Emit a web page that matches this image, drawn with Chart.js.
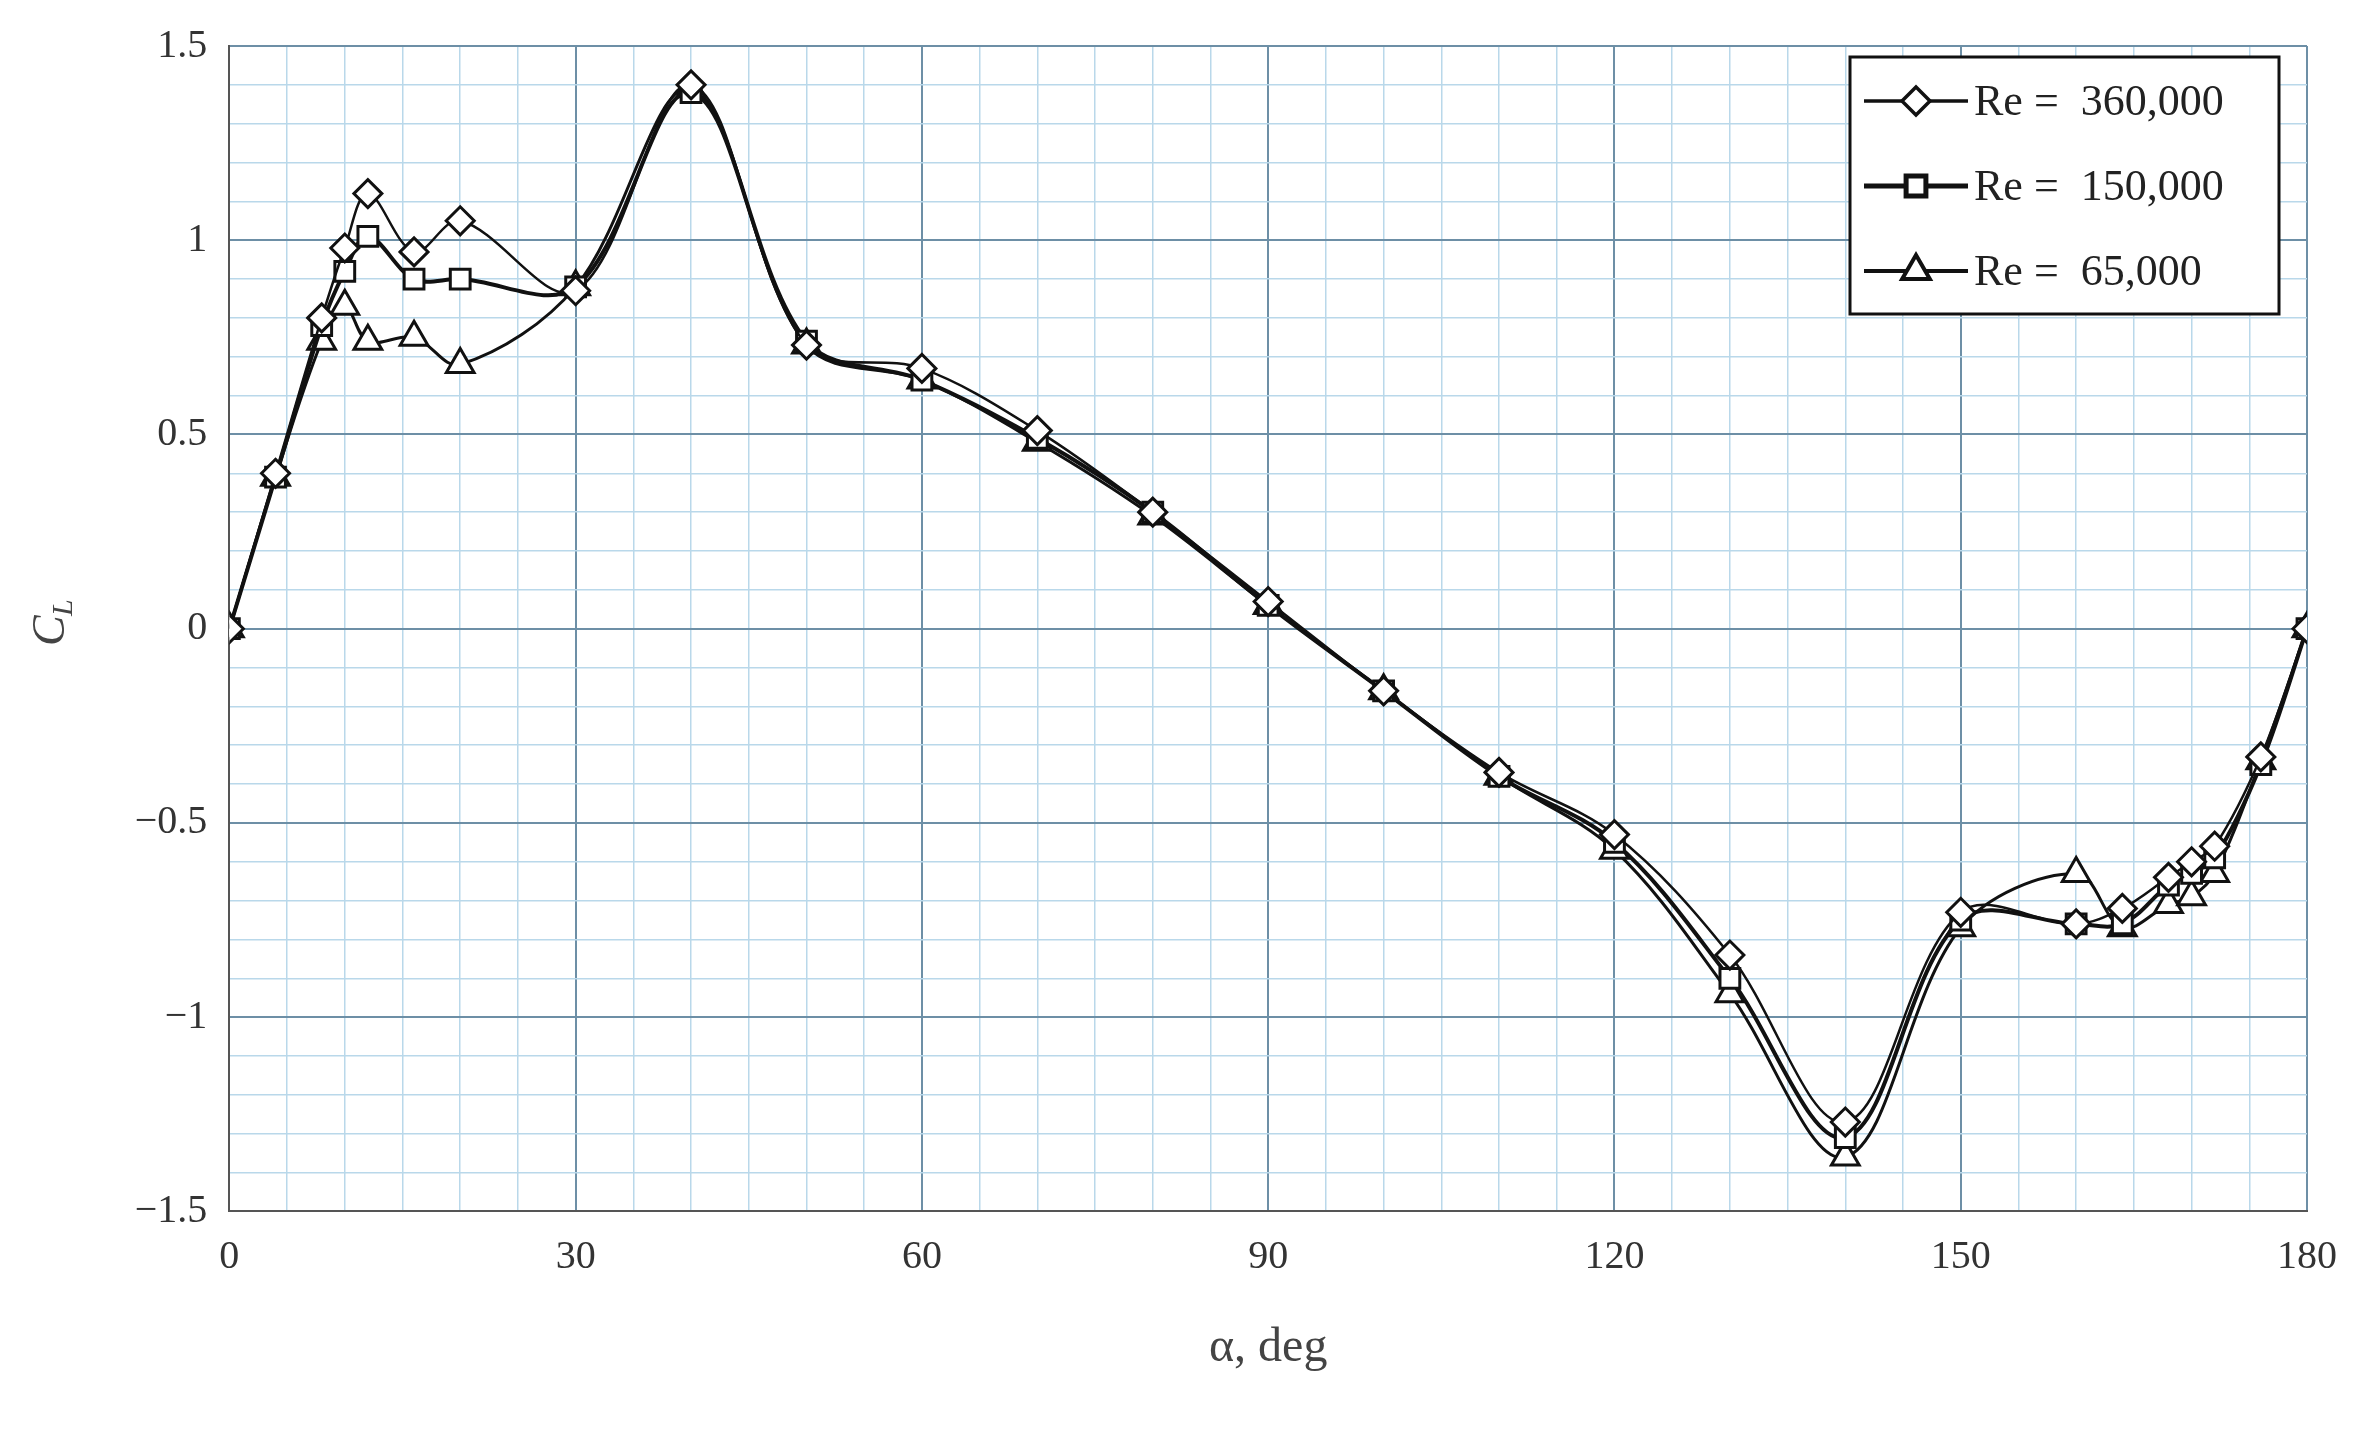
<!DOCTYPE html>
<html><head><meta charset="utf-8">
<script src="https://cdn.jsdelivr.net/npm/chart.js@4"></script>
<style>html,body{margin:0;padding:0;background:#fff}#wrap{width:2365px;height:1449px}</style>
</head><body><div id="wrap"><canvas id="c"></canvas></div>
<script>
const alpha = [0,4,8,10,12,16,20,30,40,50,60,70,80,90,100,110,120,130,140,150,160,164,168,170,172,176,180];
const re360 = [0,0.40,0.80,0.98,1.12,0.97,1.05,0.87,1.40,0.73,0.67,0.51,0.30,0.07,-0.16,-0.37,-0.53,-0.84,-1.27,-0.73,-0.76,-0.72,-0.64,-0.60,-0.56,-0.33,0];
const re150 = [0,0.39,0.78,0.92,1.01,0.90,0.90,0.88,1.38,0.74,0.64,0.49,0.30,0.06,-0.16,-0.38,-0.55,-0.90,-1.31,-0.75,-0.76,-0.76,-0.66,-0.63,-0.59,-0.35,0];
const re65 = [0,0.39,0.74,0.83,0.74,0.75,0.68,0.88,1.39,0.73,0.64,0.48,0.29,0.06,-0.16,-0.38,-0.57,-0.94,-1.36,-0.77,-0.63,-0.77,-0.71,-0.69,-0.63,-0.34,0];
const seriesNames = ['Re =  360,000','Re =  150,000','Re =  65,000'];
const xTickLabels = [0,30,60,90,120,150,180];
const yTickLabels = [1.5,1,0.5,0,-0.5,-1,-1.5];

const FONT = '"Liberation Serif", "DejaVu Serif", serif';
const pts = ys => alpha.map((x,i)=>({x, y: ys[i]}));
const mk = (label, ys, style, lw, r) => ({label, data: pts(ys), pointStyle: style, borderColor:'#111',
  backgroundColor:'#fff', pointBackgroundColor:'#fff', pointBorderColor:'#111', pointBorderWidth:3,
  pointRadius: r, borderWidth: lw, tension:0.35, fill:false});

const legendPlugin = {id:'lg', afterDraw(ch){
  const c = ch.ctx; const x0=1850,y0=57,w=429,h=257;
  c.save(); c.fillStyle='#fff'; c.fillRect(x0,y0,w,h); c.strokeStyle='#111'; c.lineWidth=3; c.strokeRect(x0,y0,w,h);
  ch.data.datasets.forEach((d,i)=>{
    const y=y0+44+i*85;
    c.strokeStyle='#111'; c.lineWidth=d.borderWidth+1; c.beginPath(); c.moveTo(x0+14,y); c.lineTo(x0+118,y); c.stroke();
    c.fillStyle='#fff'; c.strokeStyle='#111';
    Chart.helpers.drawPoint(c,{pointStyle:d.pointStyle,radius:d.pointRadius,borderWidth:3},x0+66,y);
    c.fillStyle='#222'; c.font='44px '+FONT; c.textBaseline='middle'; c.textAlign='left'; c.fillText(d.label,x0+124,y+2);
  });
  c.fillStyle='#444'; c.translate(52,630); c.rotate(-Math.PI/2);
  c.font='italic 46px '+FONT; c.textBaseline='middle'; c.fillText('C',-16,0);
  c.font='italic 30px '+FONT; c.fillText('L',14,12);
  c.restore();
}};

new Chart(document.getElementById('c'),{
  type:'line',
  data:{datasets:[mk(seriesNames[0],re360,'rectRot',2.5,14),mk(seriesNames[1],re150,'rect',4,14),mk(seriesNames[2],re65,'triangle',3,16)]},
  options:{responsive:true,maintainAspectRatio:false,animation:false,
    layout:{padding:{left:20,right:58,top:40,bottom:68}},
    plugins:{legend:{display:false},tooltip:{enabled:false}},
    scales:{
      x:{type:'linear',min:0,max:180,border:{color:'#555',width:2},
        ticks:{stepSize:5,autoSkip:false,maxRotation:0,color:'#333',font:{family:FONT,size:40},padding:22,
          callback:v=>xTickLabels.includes(v)?String(v):''},
        grid:{drawTicks:false,color:c=>c.tick.value%30===0?'#6d8fa6':'#b9d8ea',lineWidth:c=>c.tick.value%30===0?2:1.5},
        title:{display:true,text:'α, deg',color:'#444',font:{family:FONT,size:48},padding:{top:16}}},
      y:{min:-1.5,max:1.5,border:{color:'#555',width:2},
        ticks:{stepSize:0.1,autoSkip:false,color:'#333',font:{family:FONT,size:40},padding:22,
          callback:v=>{const r=Math.round(v*10)/10; return yTickLabels.includes(r)?(r<0?'\u2212'+Math.abs(r):String(r)):'';}},
        grid:{drawTicks:false,color:c=>Math.abs(Math.round(c.tick.value*10)%5)===0?'#6d8fa6':'#b9d8ea',
          lineWidth:c=>Math.abs(Math.round(c.tick.value*10)%5)===0?2:1.5},
        title:{display:true,text:' ',font:{size:44},padding:{bottom:36}}}
    }},
  plugins:[legendPlugin]
});
</script></body></html>
